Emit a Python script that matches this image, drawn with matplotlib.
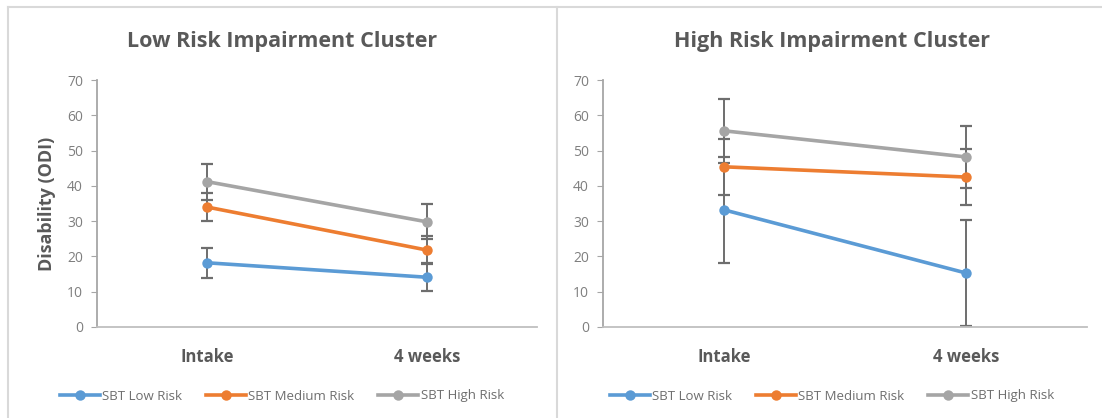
import matplotlib
matplotlib.use("Agg")
import matplotlib.pyplot as plt
from matplotlib.lines import Line2D

categories = ["Intake", "4 weeks"]
series_names = ["SBT Low Risk", "SBT Medium Risk", "SBT High Risk"]
colors = ["#5B9BD5", "#ED7D31", "#A5A5A5"]

low_titles = "Low Risk Impairment Cluster"
high_titles = "High Risk Impairment Cluster"

low_low = [18.2, 14.1]
low_low_err = [4.2, 4.0]
low_med = [34.0, 21.8]
low_med_err = [4.0, 4.0]
low_high = [41.2, 29.8]
low_high_err = [5.1, 5.0]

high_low = [33.2, 15.3]
high_low_err = [15.0, 15.0]
high_med = [45.4, 42.5]
high_med_err = [8.0, 8.0]
high_high = [55.6, 48.2]
high_high_err = [9.0, 8.7]

yticks = [0, 10, 20, 30, 40, 50, 60, 70]

plt.rcParams['font.family'] = ['Open Sans', 'DejaVu Sans']

fig = plt.figure(figsize=(11.02, 4.18), dpi=100)
fig.patch.set_facecolor("white")

# panel borders
border_c = "#D9D9D9"
fig.add_artist(Line2D([8/1102, 8/1102], [0, 1 - 7/418], transform=fig.transFigure, color=border_c, lw=1.5))
fig.add_artist(Line2D([8/1102, 1], [1 - 7/418, 1 - 7/418], transform=fig.transFigure, color=border_c, lw=1.5))
fig.add_artist(Line2D([557/1102, 557/1102], [0, 1 - 7/418], transform=fig.transFigure, color=border_c, lw=1.5))

panels = [
    (low_titles, [low_low, low_med, low_high], [low_low_err, low_med_err, low_high_err],
     [97/1102, 1 - 327/418, 440/1102, 247/418], True, 282/1102),
    (high_titles, [high_low, high_med, high_high], [high_low_err, high_med_err, high_high_err],
     [603/1102, 1 - 327/418, 484/1102, 247/418], False, 832/1102),
]

xpos = list(range(len(categories)))
for title, vals, errs, rect, ylab, cx in panels:
    ax = fig.add_axes(rect)
    for i, (v, e) in enumerate(zip(vals, errs)):
        ax.errorbar(xpos, v, yerr=e, fmt="none", ecolor="#6e6e6e", elinewidth=1.4,
                    capsize=4, capthick=1.6, zorder=2)
    for i, v in enumerate(vals):
        ax.plot(xpos, v, color=colors[i], lw=2.6, marker="o", ms=7.5,
                markeredgewidth=0, zorder=3 + i, label=series_names[i])
    ax.set_xlim(-0.5, 1.5)
    ax.set_ylim(0, 70)
    ax.set_yticks(yticks)
    ax.set_xticks(xpos)
    ax.set_xticklabels(categories, fontsize=12, fontweight="bold", color="#595959")
    for s in ["top", "right"]:
        ax.spines[s].set_visible(False)
    ax.spines["left"].set_color("#A6A6A6")
    ax.spines["bottom"].set_color("#BFBFBF")
    ax.spines["left"].set_linewidth(1.3)
    ax.spines["bottom"].set_linewidth(1.3)
    ax.tick_params(axis="y", labelsize=10, labelcolor="#7F7F7F", color="#A6A6A6",
                   length=4, direction="out", pad=6)
    ax.tick_params(axis="x", length=0, pad=15)
    if ylab:
        ax.set_ylabel("Disability (ODI)", fontsize=13, fontweight="bold",
                      color="#595959", labelpad=8)
    fig.text(cx, 1 - 42/418, title, ha="center", va="center", fontsize=15.5,
             fontweight="bold", color="#595959")
    handles, labels = ax.get_legend_handles_labels()
    fig.legend(handles, labels, loc="center", bbox_to_anchor=(cx, 1 - 396/418),
               ncol=3, frameon=False, fontsize=9.5, labelcolor="#6e6e6e",
               handlelength=3, handletextpad=0.2, columnspacing=1.8,
               borderaxespad=0)

fig.savefig("out.png", dpi=100, facecolor="white")
